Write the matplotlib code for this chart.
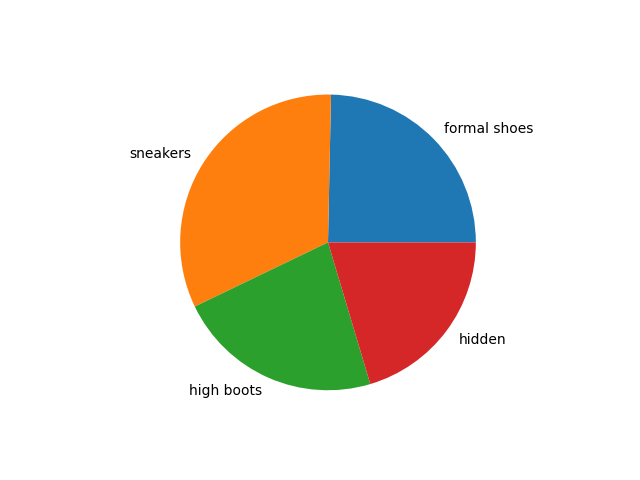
import matplotlib
matplotlib.use("Agg")
import matplotlib.pyplot as plt

labels = ['formal shoes', 'sneakers', 'high boots', 'hidden']
sizes = [24.7, 32.5, 22.5, 20.4]

fig, ax = plt.subplots(figsize=(6.4, 4.8), dpi=100)
ax.pie(sizes, labels=labels)
fig.savefig('out.png')
